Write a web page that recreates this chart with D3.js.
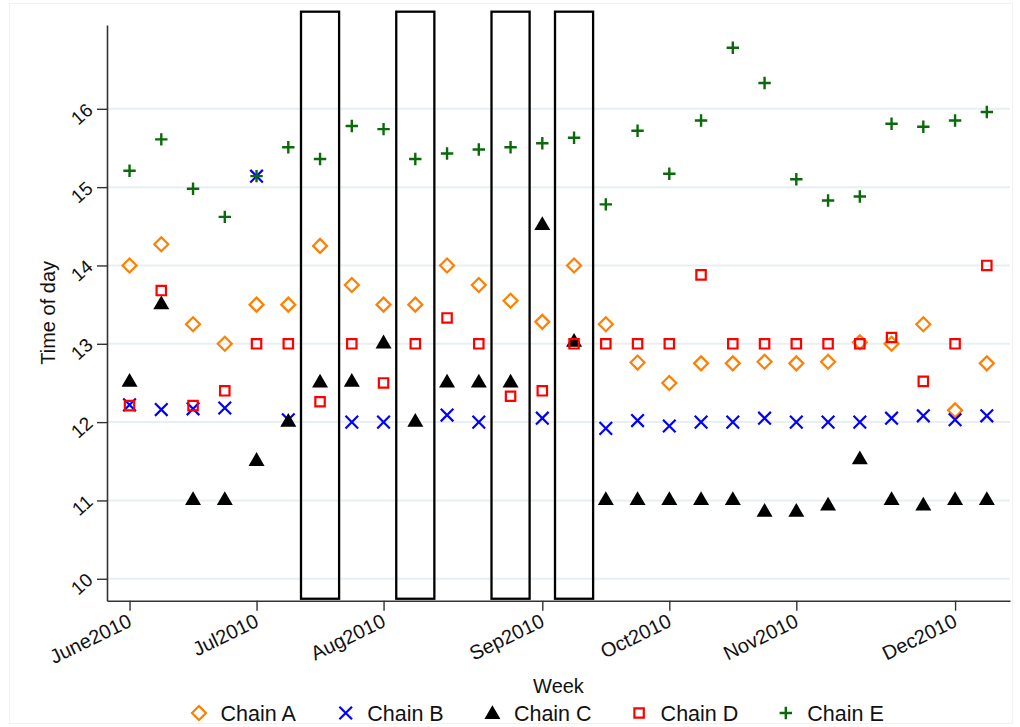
<!DOCTYPE html>
<html>
<head>
<meta charset="utf-8">
<script src="https://cdn.jsdelivr.net/npm/d3@7"></script>
<style>
  html, body { margin: 0; padding: 0; background: #fff; }
  svg { display: block; font-family: "Liberation Sans", Arial, sans-serif; }
</style>
</head>
<body>
<svg id="chart" width="1020" height="727"></svg>
<script>
// Week index 0..27 (weekly observations, June to December 2010)
const weeks = d3.range(28);

// Average time of day (hours) per chain; null = no observation that week
const chainA = [14.0, 14.27, 13.25, 13.0, 13.5, 13.5, 14.25, 13.75, 13.5, 13.5, 14.0, 13.75, 13.55, 13.28,
                14.0, 13.25, 12.76, 12.5, 12.75, 12.75, 12.77, 12.75, 12.77, 13.02, 13.0, 13.25, 12.15, 12.75];
const chainB = [12.22, 12.16, 12.17, 12.18, 15.14, 12.03, null, 12.0, 12.0, null, 12.09, 12.0, null, 12.05,
                null, 11.92, 12.02, 11.95, 12.0, 12.0, 12.05, 12.0, 12.0, 12.0, 12.05, 12.08, 12.03, 12.08];
const chainC = [12.51, 13.5, 11.0, 11.0, 11.5, 12.0, 12.5, 12.51, 13.0, 12.0, 12.5, 12.5, 12.5, 14.51,
                13.02, 11.0, 11.0, 11.0, 11.0, 11.0, 10.85, 10.85, 10.93, 11.52, 11.0, 10.93, 11.0, 11.0];
const chainD = [12.21, 13.68, 12.21, 12.4, 13.0, 13.0, 12.26, 13.0, 12.5, 13.0, 13.33, 13.0, 12.33, 12.4,
                13.0, 13.0, 13.0, 13.0, 13.88, 13.0, 13.0, 13.0, 13.0, 13.0, 13.08, 12.52, 13.0, 14.0];
const chainE = [15.21, 15.61, 14.98, 14.62, 15.14, 15.51, 15.36, 15.78, 15.74, 15.36, 15.43, 15.48, 15.51, 15.56,
                15.63, 14.78, 15.72, 15.17, 15.85, 16.78, 16.33, 15.10, 14.83, 14.88, 15.81, 15.77, 15.85, 15.96];

const seriesNames = ["Chain A", "Chain B", "Chain C", "Chain D", "Chain E"];

// Highlighted weeks (outlined bands)
const bandWeeks = [6, 9, 12, 14];
const bandHalfWidth = 0.6;
const bandLow = 9.745, bandHigh = 17.24;

// Axis ticks
const xTickWeeks = [0, 4, 8, 13, 17, 21, 26];
const xTickLabels = ["June2010", "Jul2010", "Aug2010", "Sep2010", "Oct2010", "Nov2010", "Dec2010"];
const yTicks = [10, 11, 12, 13, 14, 15, 16];

const svg = d3.select("#chart");
const W = 1020, H = 727;
const FONT = "'Liberation Sans', Arial, sans-serif";

svg.append("rect").attr("width", W).attr("height", H).attr("fill", "#fff");
svg.append("rect").attr("x", 9.5).attr("y", 3.5).attr("width", 1003).attr("height", 720)
  .attr("fill", "none").attr("stroke", "#f1f1f1").attr("stroke-width", 1);

const plot = { left: 107, right: 1010, top: 25, bottom: 600.7 };

const x = d3.scaleLinear().domain([-0.71, 27.73]).range([plot.left, plot.right]);
const y = d3.scaleLinear().domain([9.72, 17.07]).range([plot.bottom, plot.top]);

// Gridlines
svg.append("g").selectAll("line").data(yTicks).join("line")
  .attr("x1", plot.left).attr("x2", plot.right)
  .attr("y1", d => y(d)).attr("y2", d => y(d))
  .attr("stroke", "#e8eff2").attr("stroke-width", 2);

// Outlined bands
svg.append("g").selectAll("rect").data(bandWeeks).join("rect")
  .attr("x", d => x(d - bandHalfWidth))
  .attr("width", d => x(d + bandHalfWidth) - x(d - bandHalfWidth))
  .attr("y", y(bandHigh))
  .attr("height", y(bandLow) - y(bandHigh))
  .attr("fill", "none").attr("stroke", "#000").attr("stroke-width", 2.3);

// Axes
const axisColor = "#333";
const yAxis = svg.append("g").attr("transform", `translate(${plot.left},0)`)
  .call(d3.axisLeft(y).tickValues(yTicks).tickSize(10).tickSizeOuter(0).tickFormat(d3.format("d")));
const xAxis = svg.append("g").attr("transform", `translate(0,${plot.bottom})`)
  .call(d3.axisBottom(x).tickValues(xTickWeeks).tickSize(10).tickSizeOuter(0)
    .tickFormat((d, i) => xTickLabels[i]));

[xAxis, yAxis].forEach(g => {
  g.attr("font-family", FONT);
  g.select(".domain").attr("stroke", axisColor).attr("stroke-width", 1.6);
  g.selectAll(".tick line").attr("stroke", axisColor).attr("stroke-width", 1.4);
  g.selectAll(".tick text").attr("fill", "#111");
});

yAxis.attr("font-size", 19);
yAxis.selectAll(".tick text")
  .attr("x", null).attr("dy", null)
  .attr("text-anchor", "end")
  .attr("transform", "translate(-13,2.5) rotate(-42)");

xAxis.attr("font-size", 20);
xAxis.selectAll(".tick text")
  .attr("y", null).attr("dy", null)
  .attr("text-anchor", "end")
  .attr("transform", "translate(3,25) rotate(-26)");

// Axis titles
svg.append("text")
  .attr("x", (plot.left + plot.right) / 2).attr("y", 693)
  .attr("text-anchor", "middle").attr("font-size", 20).attr("fill", "#111")
  .text("Week");
svg.append("text")
  .attr("transform", `translate(55,${(plot.top + plot.bottom) / 2}) rotate(-90)`)
  .attr("text-anchor", "middle").attr("font-size", 20).attr("fill", "#111")
  .text("Time of day");

// Marker shapes
const shapes = {
  diamond: "M0,-7L7,0L0,7L-7,0Z",
  cross: "M-6.3,-6.3L6.3,6.3M-6.3,6.3L6.3,-6.3",
  triangle: "M0,-9.2L8,4.6L-8,4.6Z",
  square: "M-4.7,-4.7H4.7V4.7H-4.7Z",
  plus: "M-6.2,0H6.2M0,-6.2V6.2"
};
const styles = [
  { shape: "diamond",  stroke: "#ff8000", fill: "none", sw: 2.2 },
  { shape: "cross",    stroke: "#0000ff", fill: "none", sw: 2.2 },
  { shape: "triangle", stroke: "none",    fill: "#000", sw: 0 },
  { shape: "square",   stroke: "#ff0000", fill: "none", sw: 2.2 },
  { shape: "plus",     stroke: "#0a6a0a", fill: "none", sw: 2.4 }
];
const allSeries = [chainA, chainB, chainC, chainD, chainE];

allSeries.forEach((vals, si) => {
  const st = styles[si];
  const pts = weeks.map(w => ({ w, v: vals[w] })).filter(d => d.v != null);
  svg.append("g").attr("class", "series").selectAll("path").data(pts).join("path")
    .attr("transform", d => `translate(${x(d.w)},${y(d.v)})`)
    .attr("d", shapes[st.shape])
    .attr("fill", st.fill).attr("stroke", st.stroke).attr("stroke-width", st.sw);
});

// Legend
const legend = svg.append("g").attr("transform", "translate(199,713)");
const step = 146.7;
seriesNames.forEach((name, i) => {
  const st = styles[i];
  const g = legend.append("g").attr("transform", `translate(${i * step},0)`);
  g.append("path").attr("d", shapes[st.shape])
    .attr("transform", st.shape === "triangle" ? "translate(0,1.5)" : null)
    .attr("fill", st.fill).attr("stroke", st.stroke).attr("stroke-width", st.sw);
  g.append("text").attr("x", 21.5).attr("y", 8).attr("font-size", 21.5).attr("fill", "#111").text(name);
});
</script>
</body>
</html>
